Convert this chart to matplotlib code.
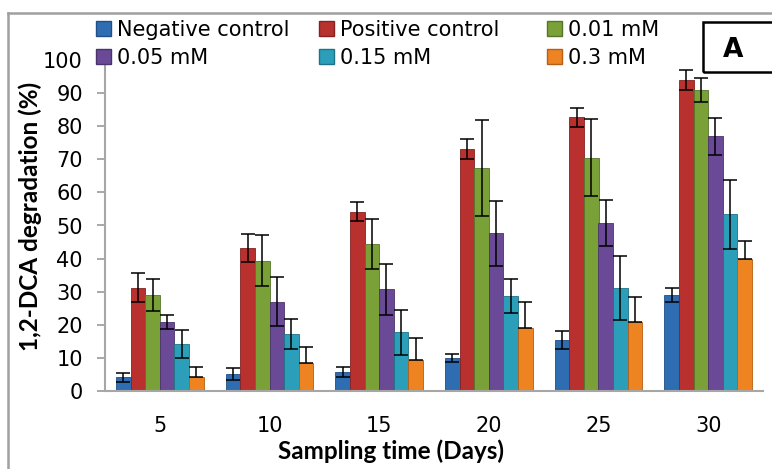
import matplotlib
matplotlib.use("Agg")
import matplotlib.pyplot as plt
from matplotlib.patches import Rectangle, Patch
from matplotlib.lines import Line2D
import numpy as np

plt.rcParams['font.family'] = ['DejaVu Sans']

# sampling days
days = ["5", "10", "15", "20", "25", "30"]

# mean degradation (%) per series
neg_ctrl = [4.1, 5.1, 5.8, 10.1, 15.4, 29.0]
pos_ctrl = [31.2, 43.3, 54.2, 73.1, 82.7, 94.0]
mm_001 = [29.0, 39.4, 44.4, 67.3, 70.5, 90.9]
mm_005 = [20.9, 27.0, 30.7, 47.6, 50.7, 77.0]
mm_015 = [14.2, 17.3, 17.8, 28.7, 31.2, 53.4]
mm_03 = [4.1, 8.4, 9.4, 18.9, 20.8, 39.9]

# error (+/-)
neg_err = [1.4, 1.9, 1.5, 1.2, 2.7, 2.1]
pos_err = [4.4, 4.2, 2.9, 2.9, 2.9, 3.1]
e001 = [4.8, 7.6, 7.5, 14.5, 11.6, 3.6]
e005 = [2.2, 7.4, 7.8, 9.8, 7.0, 5.6]
e015 = [4.2, 4.6, 6.8, 5.2, 9.7, 10.4]
e03 = [3.3, 4.8, 6.5, 7.9, 7.5, 5.4]

labels = ["Negative control", "Positive control", "0.01 mM",
          "0.05 mM", "0.15 mM", "0.3 mM"]
colors = ["#2F6DB3", "#B8312F", "#79A137", "#6A4A97", "#2B9FBA", "#EE8322"]
edges = ["#1F4F85", "#852221", "#56752A", "#4A336B", "#1E7387", "#B55F17"]

series = [neg_ctrl, pos_ctrl, mm_001, mm_005, mm_015, mm_03]
errs = [neg_err, pos_err, e001, e005, e015, e03]

fig = plt.figure(figsize=(7.72, 4.69), dpi=100)
ax = fig.add_axes([105 / 772, 1 - 391 / 469, 658 / 772, (391 - 60) / 469])

x = np.arange(len(days))
w = 0.8 / 6
for i, (vals, err) in enumerate(zip(series, errs)):
    pos = x - 0.4 + w * (i + 0.5)
    if i == 5:
        yerr = [[0] * len(err), err]  # only plus direction on 0.3 mM
    else:
        yerr = err
    ax.bar(pos, vals, w, color=colors[i], edgecolor=edges[i], linewidth=0.6,
           yerr=yerr, capsize=4.8,
           error_kw=dict(ecolor="black", elinewidth=1.1, capthick=1.1))

ax.set_xlim(-0.5, len(days) - 0.5)
ax.set_ylim(0, 100)
ax.set_yticks(range(0, 101, 10))
ax.set_xticks(x)
ax.set_xticklabels(days)
ax.tick_params(axis='y', labelsize=15, length=6, width=1.2, color="#999999", pad=10)
ax.tick_params(axis='x', labelsize=15, length=0, pad=18)
for s in ["top", "right"]:
    ax.spines[s].set_visible(False)
for s in ["left", "bottom"]:
    ax.spines[s].set_color("#a6a6a6")
    ax.spines[s].set_linewidth(1.5)

fig.text(30 / 772, 1 - 216 / 469, "1,2-DCA degradation (%)", rotation=90,
         fontsize=17.5, fontweight="bold", family=["Lato", "DejaVu Sans"],
         ha="center", va="center")
fig.text(391 / 772, 1 - 451 / 469, "Sampling time (Days)",
         fontsize=17.5, fontweight="bold", family=["Lato", "DejaVu Sans"],
         ha="center", va="center")

# legend: three columns placed separately
col_x = [96, 319, 547]
for c in range(3):
    hs = [Patch(facecolor=colors[c], edgecolor=edges[c]),
          Patch(facecolor=colors[c + 3], edgecolor=edges[c + 3])]
    lg = fig.legend(hs, [labels[c], labels[c + 3]], loc="upper left",
                    bbox_to_anchor=(col_x[c] / 772, 1 - 20 / 469),
                    frameon=False, fontsize=15, handlelength=0.7,
                    handleheight=0.7, handletextpad=0.3, labelspacing=0.38,
                    borderpad=0, borderaxespad=0)

# outer frame (top and left visible)
fig.add_artist(Line2D([8 / 772, 8 / 772], [0, 1 - 13 / 469],
                      transform=fig.transFigure, color="#a0a0a0", lw=1.8))
fig.add_artist(Line2D([8 / 772, 1], [1 - 13 / 469, 1 - 13 / 469],
                      transform=fig.transFigure, color="#a0a0a0", lw=1.8))

# panel label box
fig.add_artist(Rectangle((703 / 772, 1 - 72 / 469), 80 / 772, 50 / 469,
                         transform=fig.transFigure, fill=False,
                         edgecolor="black", lw=1.8))
fig.text(733 / 772, 1 - 50 / 469, "A", fontsize=19, fontweight="bold",
         ha="center", va="center")

fig.savefig("out.png", dpi=100)
